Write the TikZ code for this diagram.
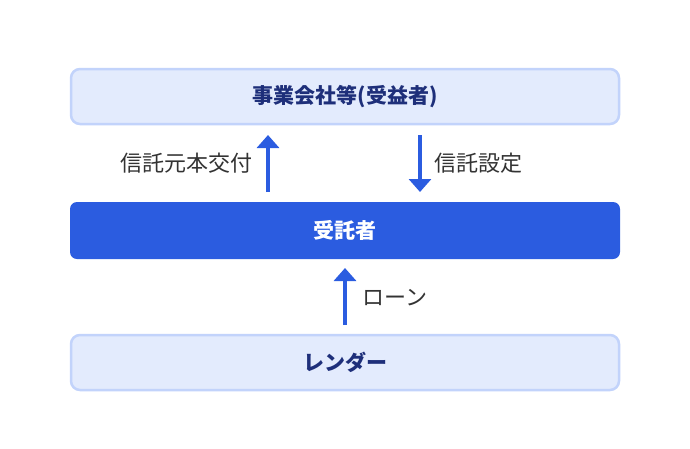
\documentclass[tikz,border=0pt]{standalone}
\usepackage{fontspec}
\setmainfont{Noto Sans CJK JP}
\usetikzlibrary{arrows.meta}
\definecolor{lightbg}{HTML}{E3EBFD}
\definecolor{lightbd}{HTML}{C2D3FB}
\definecolor{mainblue}{HTML}{2B5CE0}
\definecolor{navy}{HTML}{1E2F7A}
\definecolor{txt}{HTML}{333333}
\tikzset{
 lightbox/.style={draw=lightbd,line width=2.5pt,fill=lightbg,rounded corners=9pt,minimum width=548pt,minimum height=55pt,text=navy,font=\bfseries\fontsize{21}{24}\selectfont},
 darkbox/.style={fill=mainblue,rounded corners=7pt,minimum width=550pt,minimum height=57pt,text=white,font=\bfseries\fontsize{21}{24}\selectfont},
 flow/.style={draw=mainblue,line width=4.5pt,-{Triangle[length=13pt,width=22pt]}},
 lbl/.style={text=txt,font=\fontsize{22}{26}\selectfont}
}
\begin{document}
\begin{tikzpicture}[x=1pt,y=-1pt]
\useasboundingbox (0,0) rectangle (690,448);
\node[lightbox] (top) at (345,96.5) {事業会社等(受益者)};
\node[darkbox] (mid) at (345,230.5) {受託者};
\node[lightbox] (bot) at (345,362.5) {レンダー};
\coordinate (a1) at (268,192); \coordinate (a2) at (268,135);
\coordinate (b1) at (420,135); \coordinate (b2) at (420,192);
\coordinate (c1) at (345,325); \coordinate (c2) at (345,268);
\draw[flow] (a1) -- (a2);
\draw[flow] (b1) -- (b2);
\draw[flow] (c1) -- (c2);
\node[lbl,anchor=east] (la) at (256,163) {信託元本交付};
\node[lbl,anchor=west] (lb) at (431,163) {信託設定};
\node[lbl,anchor=west] (lc) at (359,298) {ローン};
\end{tikzpicture}
\end{document}
